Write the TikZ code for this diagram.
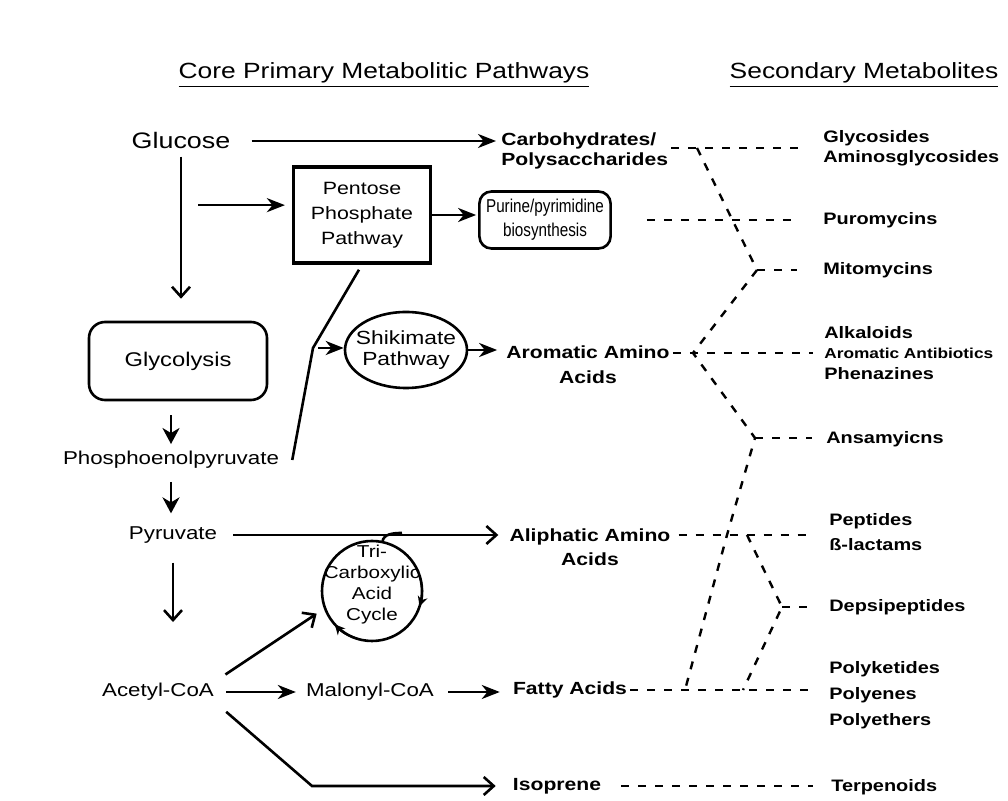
\documentclass[tikz,border=0pt]{standalone}
\usepackage{fontspec}
\setmainfont[FakeStretch=1.2]{Liberation Sans}
\newfontfamily\narrowsans[FakeStretch=0.82]{Liberation Sans}
\usetikzlibrary{positioning,arrows.meta,shapes.geometric}

\begin{document}
\begin{tikzpicture}[
  x=0.5pt, y=0.5pt,
  >={Stealth[length=9pt,width=7pt,inset=2.8pt]},
  line width=1.3pt,
  prim/.style={
     inner sep=1pt,
     font=\fontsize{9.3}{11}\selectfont
  },
  mid/.style={
     inner sep=1pt,
     align=center,
     font=\fontsize{8.8}{12.5}\selectfont\bfseries
  },
  sec/.style={
     anchor=west,
     inner sep=1pt,
     align=left,
     font=\fontsize{8.3}{10}\selectfont\bfseries
  },
  heading/.style={font=\fontsize{11}{13}\selectfont},
  pathbox/.style={
     draw,
     line width=1.6pt,
     minimum width=68.5pt,
     minimum height=48pt,
     align=center,
     font=\fontsize{8.9}{12.5}\selectfont
  },
  roundbox/.style={draw, rounded corners=8pt, align=center},
  barb/.style={-{Straight Barb[length=5pt,width=9pt]}},
  yarrow/.style={-{Stealth[length=8pt,width=8.5pt,inset=2.5pt]}},
  cyc/.style={-{Stealth[length=5pt,width=5pt]}, line width=1pt},
  link/.style={dash pattern=on 4pt off 4.5pt, line width=1.2pt}
]

\useasboundingbox (0,0) rectangle (1008,-801);

\node[heading] (core)   at (384,-75) {\underline{Core Primary Metabolitic Pathways}};
\node[heading] (second) at (864,-75) {\underline{Secondary Metabolites}};

% primary pathways
\node[prim, font=\fontsize{11.2}{13}\selectfont] (gluc) at (181,-141) {Glucose};
\node[mid, anchor=west, align=left, font=\fontsize{8.8}{10}\selectfont\bfseries] (carb) at (498,-151) {Carbohydrates/\\Polysaccharides};
\node[pathbox] (pent) at (362,-215) {Pentose\\Phosphate\\Pathway};
\node[roundbox, minimum width=62pt, minimum height=28.5pt, rounded corners=6pt,
      font=\narrowsans\fontsize{9.3}{12}\selectfont] (pur) at (545,-220) {Purine/pyrimidine\\biosynthesis};
\node[roundbox, minimum width=89pt, minimum height=39pt,
      font=\fontsize{9.9}{12}\selectfont] (glycol) at (178,-361) {Glycolysis};
\node[draw, ellipse, minimum width=61pt, minimum height=38pt,
      label={[align=center, font=\fontsize{9.5}{10.5}\selectfont]center:Shikimate\\Pathway}] (shik) at (406,-350) {};
\node[mid] (arom) at (588,-365) {Aromatic Amino\\Acids};
\node[prim] (pep) at (171,-460) {Phosphoenolpyruvate};
\node[prim] (pyr) at (173,-535) {Pyruvate};
\node[mid, font=\fontsize{8.8}{12}\selectfont\bfseries] (aliph) at (590,-547) {Aliphatic Amino\\Acids};
\node[draw, circle, minimum size=50pt, inner sep=0pt, outer sep=0pt,
      label={[yshift=3pt, align=center, font=\fontsize{8.6}{10.5}\selectfont]center:Tri-\\Carboxylic\\Acid\\Cycle}] (tca) at (372,-591) {};
\node[prim] (acetyl)  at (158,-692) {Acetyl-CoA};
\node[prim] (malonyl) at (370,-692) {Malonyl-CoA};
\node[mid] (fatty) at (570,-690) {Fatty Acids};
\node[mid] (iso)   at (557,-786) {Isoprene};

% secondary metabolites
\node[sec] (glycos) at (820,-148) {Glycosides\\Aminosglycosides};
\node[sec] (puro)   at (820,-220) {Puromycins};
\node[sec] (mito)   at (820,-270) {Mitomycins};
\node[sec, font=\fontsize{8.3}{10.3}\selectfont\bfseries] (alk) at (821,-353) {Alkaloids\\{\fontsize{7.2}{10.3}\selectfont Aromatic Antibiotics}\\Phenazines};
\node[sec] (ansa)   at (823,-439) {Ansamyicns};
\node[sec, font=\fontsize{8.3}{12.5}\selectfont\bfseries] (pept) at (826,-532) {Peptides\\ß-lactams};
\node[sec] (depsi)  at (826,-607) {Depsipeptides};
\node[sec, font=\fontsize{8.3}{13}\selectfont\bfseries] (poly) at (826,-695) {Polyketides\\Polyenes\\Polyethers};
\node[sec] (terp)   at (828,-787) {Terpenoids};

\coordinate (kink)    at (313,-348);
\coordinate (isobend) at (312,-786);
\coordinate (tcajoin) at (402,-533);

\coordinate (j1)  at (697,-148);
\coordinate (jm)  at (757,-270);
\coordinate (ja)  at (693,-353);
\coordinate (jn)  at (755,-438);
\coordinate (jl)  at (727,-535);
\coordinate (jr)  at (747,-535);
\coordinate (jd)  at (782,-607);
\coordinate (jf1) at (685,-690);
\coordinate (jf2) at (743,-690);


\draw[->, shorten <=9pt, shorten >=1pt] (gluc.east) -- (gluc.east -| carb.west);
\draw[barb, shorten <=2pt, shorten >=11pt] (gluc.south) -- (gluc.south |- glycol.north);
\draw[->, shorten <=8.5pt, shorten >=3.5pt] (gluc.south |- pent.172) -- (pent.172);
\draw[->, shorten >=1pt] (pent.east) -- (pent.east -| pur.west);

\draw[shorten <=3pt] (pent.south) -- (kink) -- ([xshift=5pt]pep.east);
\draw[->, shorten <=2.5pt] (kink) -- (kink -| shik.west);
\draw[->, shorten >=3pt] (shik.east) -- (shik.east -| arom.west);

\draw[yarrow, shorten <=7pt, shorten >=2pt] (pep.north |- glycol.south) -- (pep.north);
\draw[yarrow, shorten <=5pt, shorten >=5pt] (pep.south) -- (pep.south |- pyr.north);

\draw[barb, shorten <=6.5pt, shorten >=4pt] (pyr.east) -- (pyr.east -| aliph.west);
\draw[barb, shorten <=8pt, shorten >=29pt] (pyr.south) -- (pyr.south |- acetyl.north);

\draw[barb, shorten <=5pt, shorten >=5pt] (acetyl.north east) -- (tca.200);
\draw[->, shorten <=4.5pt, shorten >=3.5pt] (acetyl.east) -- (malonyl.west);
\draw[->, shorten <=5.5pt, shorten >=5pt] (malonyl.east) -- (malonyl.east -| fatty.west);
\draw[barb, shorten <=6pt, shorten >=7pt] (acetyl.south east) -- (isobend) -- (iso.west);

\draw[cyc] (tca.15) arc[start angle=15, end angle=-18, radius=25pt];
\draw[cyc] (tca.255) arc[start angle=255, end angle=222, radius=25pt];
\draw (tca.78) to[out=85, in=180] (tcajoin);


\draw[link, shorten >=11pt] (carb.east |- j1) -- (j1 -| glycos.west);
\draw[link] (j1) -- (jm) -- (ja) -- (jn) -- (jl) -- (jf1);
\draw[link] (jr) -- (jd) -- (jf2);

\draw[link, shorten <=17.5pt, shorten >=11pt] (pur.east) -- (pur.east -| puro.west);
\draw[link, shorten >=11.5pt] (jm) -- (jm -| mito.west);
\draw[link, shorten >=4pt] (arom.east |- ja) -- (ja -| alk.west);
\draw[link, shorten >=5.5pt] (jn) -- (jn -| ansa.west);
\draw[link, shorten <=2.5pt, shorten >=6.5pt] (aliph.east |- jl) -- (jl -| pept.west);
\draw[link, shorten >=7pt] (jd) -- (jd -| depsi.west);
\draw[link, shorten >=6.5pt] (fatty.east |- jf1) -- (jf1 -| poly.west);
\draw[link, shorten <=8.5pt, shorten >=7.5pt] (iso.east) -- (iso.east -| terp.west);

\end{tikzpicture}
\end{document}
